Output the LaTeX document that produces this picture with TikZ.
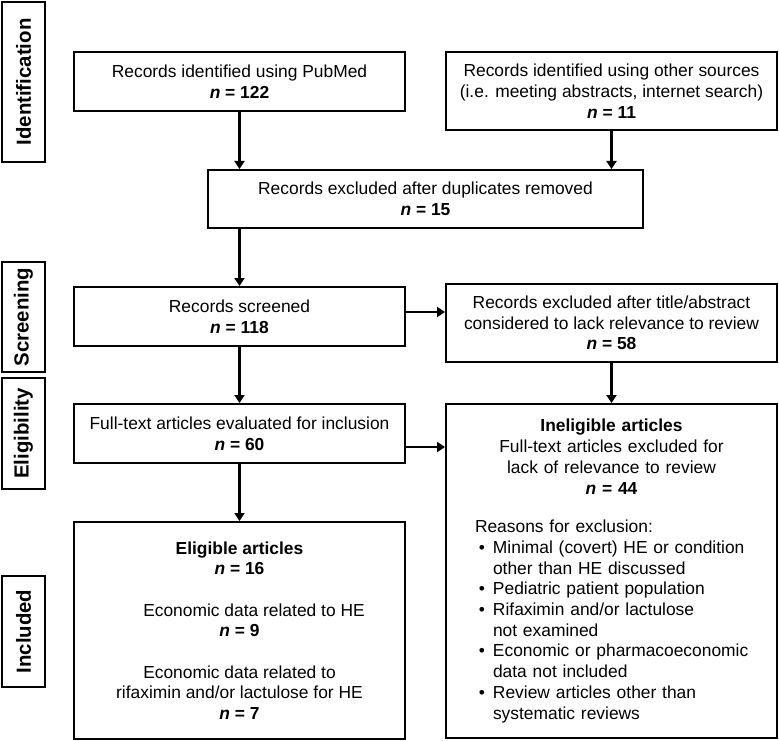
\documentclass[tikz,border=0pt]{standalone}
\usepackage{fontspec}
\setmainfont{Liberation Sans}
\usetikzlibrary{arrows.meta}
\newcommand{\ncount}[1]{\textbf{\textit{n} = #1}}
\newcommand{\bulletitem}{\leavevmode\llap{\textbullet\hspace{8pt}}}

\begin{document}
\begin{tikzpicture}[x=1pt,y=-1pt]
		\tikzset{box/.style = {shape=rectangle, draw, line width=2pt, align=center, inner sep=0pt, font=\fontsize{17.4pt}{20.7pt}\selectfont},
			phase/.style = {shape=rectangle, draw, line width=2pt, rotate=90, minimum height=43pt, inner sep=0pt, font=\fontsize{20.4pt}{24pt}\selectfont\bfseries},
			arr/.style = {line width=2.2pt, -{Triangle[length=8pt,width=10pt]}}}

		\useasboundingbox (0,0) rectangle (779,741);

		%phases
		\node[phase, minimum width=160pt] (P_1) at (23.5,82) {Identification};
		\node[phase, minimum width=110pt] (P_2) at (23.5,317) {Screening};
		\node[phase, minimum width=111pt] (P_3) at (23.5,433.5) {Eligibility};
		\node[phase, minimum width=111pt] (P_4) at (23.5,631.5) {Included};

		%records
		\node[box, minimum width=331pt, minimum height=59pt] (R_1) at (239.5,81.5) {Records identified using PubMed\\ \ncount{122}};
		\node[box, minimum width=331pt, minimum height=78pt] (R_2) at (611.5,91) {Records identified using other sources\\ (i.e. meeting abstracts, internet search)\\ \ncount{11}};
		\node[box, minimum width=435pt, minimum height=58pt] (R_3) at (425.5,199) {Records excluded after duplicates removed\\ \ncount{15}};
		\node[box, minimum width=331pt, minimum height=59pt] (R_4) at (239.5,316.5) {Records screened\\ \ncount{118}};
		\node[box, minimum width=331pt, minimum height=78pt] (R_5) at (611.5,323) {Records excluded after title/abstract\\ considered to lack relevance to review\\ \ncount{58}};
		\node[box, minimum width=331pt, minimum height=59pt] (R_6) at (239.5,433.5) {Full-text articles evaluated for inclusion\\ \ncount{60}};
		\node[box, minimum width=331pt, minimum height=334pt, text width=290pt, align=left] (R_7) at (611.5,571) {\parindent=0pt
			{\centering\textbf{Ineligible articles}\\ Full-text articles excluded for\\ lack of relevance to review\\ \ncount{44}\par}
			\vspace{18pt}
			\leftskip=26.5pt
			\hspace*{-18pt}Reasons for exclusion:\\
			\bulletitem Minimal (covert) HE or condition\\
			other than HE discussed\\
			\bulletitem Pediatric patient population\\
			\bulletitem Rifaximin and/or lactulose\\
			not examined\\
			\bulletitem Economic or pharmacoeconomic\\
			data not included\\
			\bulletitem Review articles other than\\
			systematic reviews\par};
		\node[box, minimum width=331pt, minimum height=217pt] (R_8) at (239.5,630.5) {\textbf{Eligible articles}\\ \ncount{16}\\[20.7pt]
			\hspace*{29pt}Economic data related to HE\\ \ncount{9}\\[20.7pt]
			Economic data related to\\ rifaximin and/or lactulose for HE\\ \ncount{7}};

		%arrows
		\draw[arr] (R_1.south) -- (R_1.south |- R_3.north);
		\draw[arr] (R_2.south) -- (R_2.south |- R_3.north);
		\draw[arr] (R_4.north |- R_3.south) -- (R_4.north);
		\draw[arr] ([yshift=4.5pt]R_4.east) -- ([yshift=4.5pt]R_4.east -| R_5.west);
		\draw[arr] (R_4.south) -- (R_6.north);
		\draw[arr] (R_5.south) -- (R_5.south |- R_7.north);
		\draw[arr] ([yshift=-13.5pt]R_6.east) -- ([yshift=-13.5pt]R_6.east -| R_7.west);
		\draw[arr] (R_6.south) -- (R_8.north);

	\end{tikzpicture}
\end{document}
